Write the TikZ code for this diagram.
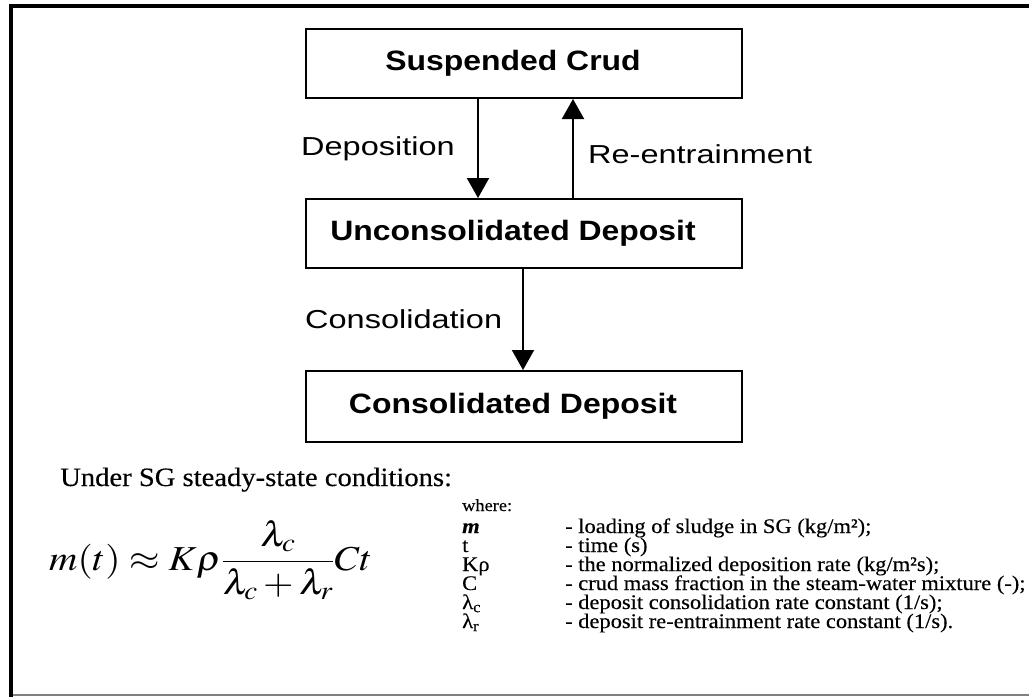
\documentclass[tikz,border=0pt]{standalone}
\usepackage{mathptmx}
\usepackage{fontspec}
\setmainfont{Liberation Serif}
\newfontfamily\boxfont[FakeStretch=1.14]{Liberation Sans}
\newfontfamily\labelfont[FakeStretch=1.25]{Liberation Sans}
\newfontfamily\legendfont[FakeStretch=1.08,FakeBold=0.3]{Liberation Serif}
\usetikzlibrary{arrows.meta}
\tikzset{
        stagebox/.style={draw,line width=2pt,minimum width=436pt,minimum height=69pt,inner sep=0pt,
            execute at begin node=\hspace*{-22pt},
            font=\boxfont\bfseries\fontsize{28}{30}\selectfont},
        flowlabel/.style={anchor=base west,inner sep=0pt,font=\labelfont\fontsize{26}{28}\selectfont},
        flow/.style={line width=2pt,-{Triangle[width=22pt,length=20pt]}},
        legend/.style={anchor=base west,inner sep=0pt,font=\legendfont\fontsize{20.8}{22}\selectfont}
    }
\begin{document}
\begin{tikzpicture}[x=1pt,y=-1pt]
\useasboundingbox (0,0) rectangle (1029,697);

% frame
\draw[line width=4.5pt] (11,697) -- (11,6) -- (1029,6);
\draw[line width=1.5pt,gray] (13,695) -- (1029,695);

\draw (524,63.5) node(SUSP)[stagebox]{Suspended Crud};
\draw (524,233.5) node(UNCON)[stagebox]{Unconsolidated Deposit};
\draw (524,406.5) node(CONS)[stagebox,minimum height=71pt]{Consolidated Deposit};

\draw[flow] ([xshift=-46pt]SUSP.south) -- ([xshift=-46pt]UNCON.north);
\draw[flow] ([xshift=49pt]UNCON.north) -- ([xshift=49pt]SUSP.south);
\draw[flow] ([xshift=-1pt]UNCON.south) -- ([xshift=-1pt]CONS.north);

\draw (301,155) node(DEP)[flowlabel]{Deposition};
\draw (588,163) node(REENT)[flowlabel]{Re-entrainment};
\draw (305,328) node(CONSOL)[flowlabel]{Consolidation};

\draw (60,486) node(COND)[anchor=base west,inner sep=0pt,font=\legendfont\fontsize{26.5}{30}\selectfont]{Under SG steady-state conditions:};
\draw (49,560) node(EQN)[anchor=west,inner sep=0pt,font=\fontsize{35}{40}\selectfont]
    {\scalebox{1.12}[1]{$\displaystyle m(t)\approx K\rho\frac{\lambda_c}{\lambda_c+\lambda_r}Ct$}};

\draw (462,511) node(WHERE)[legend,font=\legendfont\fontsize{17}{20}\selectfont]{where:};
\draw (462,533) node(SYM1)[legend]{\textit{\textbf{m}}};
\draw (462,552) node(SYM2)[legend]{t};
\draw (462,571) node(SYM3)[legend]{Kρ};
\draw (462,590) node(SYM4)[legend]{C};
\draw (462,609) node(SYM5)[legend]{λ\textsubscript{c}};
\draw (462,628) node(SYM6)[legend]{λ\textsubscript{r}};
\draw (565,533) node(DESC1)[legend]{- loading of sludge in SG (kg/m²);};
\draw (565,552) node(DESC2)[legend]{- time (s)};
\draw (565,571) node(DESC3)[legend]{- the normalized deposition rate (kg/m²s);};
\draw (565,590) node(DESC4)[legend]{- crud mass fraction in the steam-water mixture (-);};
\draw (565,609) node(DESC5)[legend]{- deposit consolidation rate constant (1/s);};
\draw (565,628) node(DESC6)[legend]{- deposit re-entrainment rate constant (1/s).};

\end{tikzpicture}
\end{document}
